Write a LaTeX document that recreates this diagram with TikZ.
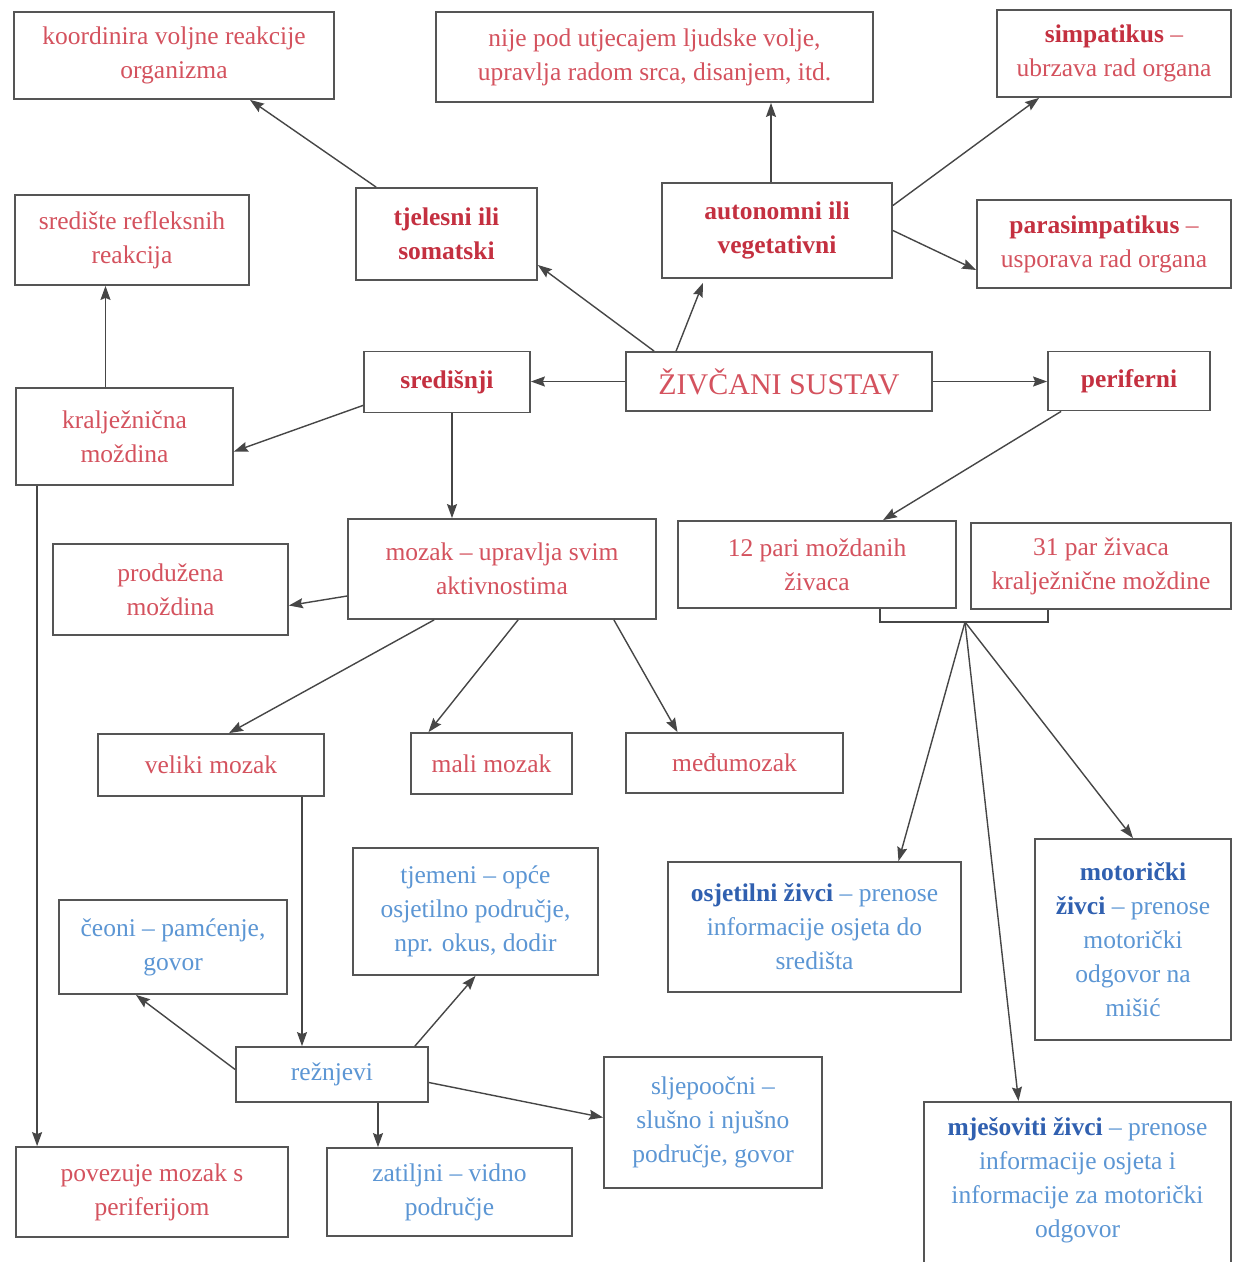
\documentclass[tikz,border=0pt]{standalone}
\usepackage{fontspec}
\setmainfont{Liberation Serif}
\usetikzlibrary{arrows.meta}
\definecolor{rtxt}{RGB}{212,82,94}
\definecolor{rbold}{RGB}{196,48,64}
\definecolor{btxt}{RGB}{92,150,212}
\definecolor{bbold}{RGB}{48,96,176}
\definecolor{framec}{RGB}{85,85,85}
\definecolor{linc}{RGB}{70,70,70}
\tikzset{
  box/.style={draw=framec, line width=1.8pt, inner sep=0pt, align=center, fill=white,
    font=\fontsize{25.5}{34}\selectfont},
  redbox/.style={box, text=rtxt},
  bluebox/.style={box, text=btxt},
  plaintxt/.style={inner sep=0pt, align=center, font=\fontsize{25.5}{34}\selectfont},
  arr/.style={draw=linc, line width=1.4pt, -{Stealth[length=14pt,width=10pt,inset=2pt]}},
  ln/.style={draw=linc, line width=1.4pt},
}
\newcommand{\rb}[1]{\textcolor{rbold}{\textbf{#1}}}
\newcommand{\bb}[1]{\textcolor{bbold}{\textbf{#1}}}
\begin{document}
\begin{tikzpicture}[x=1pt,y=-1pt]
\useasboundingbox (0,0) rectangle (1233,1262);
\fill[white] (0,0) rectangle (1233,1262);
\clip (0,0) rectangle (1233,1262);

% top row
\node[redbox, minimum width=320pt, minimum height=87pt] (koord) at (174,55.5) {koordinira voljne reakcije\\organizma};
\node[redbox, minimum width=437pt, minimum height=90pt] (nije) at (654.5,57) {nije pod utjecajem ljudske volje,\\upravlja radom srca, disanjem, itd.};
\node[redbox, minimum width=234pt, minimum height=87pt] (simp) at (1114,53.5) {\rb{simpatikus} –\\ubrzava rad organa};

\node[redbox, minimum width=181pt, minimum height=92pt] (tjel) at (446.5,234) {\rb{tjelesni ili}\\\rb{somatski}};
\node[redbox, minimum width=230pt, minimum height=95pt] (auto) at (777,230.5) {\rb{autonomni ili}\\\rb{vegetativni}};
\node[redbox, minimum width=254pt, minimum height=88pt] (paras) at (1104,244) {\rb{parasimpatikus} –\\usporava rad organa};
\node[redbox, minimum width=234pt, minimum height=90pt] (sredref) at (132,240) {središte refleksnih\\reakcija};

% middle row
\node[redbox, minimum width=166pt, minimum height=61pt] (sred) at (447,382) {\rb{središnji}};
\node[redbox, minimum width=306pt, minimum height=59pt, font=\fontsize{30}{36}\selectfont] (zs) at (779,381.5) {ŽIVČANI SUSTAV};
\node[redbox, minimum width=162pt, minimum height=59pt] (perif) at (1129,381) {\rb{periferni}};
\node[redbox, minimum width=217pt, minimum height=97pt] (kralj) at (124.5,436.5) {kralježnična\\moždina};

\node[redbox, minimum width=308pt, minimum height=100pt] (mozak) at (502,569) {mozak – upravlja svim\\aktivnostima};
\node[redbox, minimum width=278pt, minimum height=87pt] (pari) at (817,564.5) {12 pari moždanih\\živaca};
\node[redbox, minimum width=260pt, minimum height=86pt] (par31) at (1101,566) {31 par živaca\\kralježnične moždine};
\node[redbox, minimum width=235pt, minimum height=91pt] (prod) at (170.5,589.5) {produžena\\moždina};

\node[redbox, minimum width=226pt, minimum height=62pt] (vel) at (211,765) {veliki mozak};
\node[redbox, minimum width=161pt, minimum height=61pt] (mali) at (491.5,763.5) {mali mozak};
\node[redbox, minimum width=217pt, minimum height=60pt] (medju) at (734.5,763) {međumozak};

% lower part
\node[bluebox, minimum width=293pt, minimum height=130pt] (osj) at (814.5,927) {\bb{osjetilni živci} – prenose\\informacije osjeta do\\središta};
\node[bluebox, minimum width=196pt, minimum height=201pt] (mot) at (1133,939.5) {\bb{motorički}\\\bb{živci} – prenose\\motorički\\odgovor na\\mišić};
\node[bluebox, minimum width=245pt, minimum height=127pt] (tjem) at (475.5,911.5) {tjemeni – opće\\osjetilno područje,\\npr. okus, dodir};
\node[bluebox, minimum width=228pt, minimum height=94pt] (ceoni) at (173,947) {čeoni – pamćenje,\\govor};
\node[bluebox, minimum width=192pt, minimum height=55pt] (rez) at (332,1074.5) {režnjevi};
\node[bluebox, minimum width=218pt, minimum height=131pt] (slj) at (713,1122.5) {sljepoočni –\\slušno i njušno\\područje, govor};
\node[box, minimum width=307pt, minimum height=200pt, anchor=north] (mjes) at (1077.5,1101) {};
\node[plaintxt, text=btxt] (mjestxt) at (1077.5,1180) {\bb{mješoviti živci} – prenose\\informacije osjeta i\\informacije za motorički\\odgovor};
\node[redbox, minimum width=272pt, minimum height=90pt] (povez) at (152,1192) {povezuje mozak s\\periferijom};
\node[bluebox, minimum width=245pt, minimum height=88pt] (zat) at (449.5,1192) {zatiljni – vidno\\područje};

% connectors
\draw[arr] ([xshift=21pt]tjel.north west) -- ([xshift=76pt]koord.south);
\draw[arr] ([xshift=29pt]zs.north west) -- ([yshift=-31pt]tjel.east);
\draw[arr] ([xshift=51pt]zs.north west) -- ([xshift=-74pt,yshift=-4pt]auto.south);
\draw[arr] ([xshift=-6pt]auto.north) -- ([xshift=-6pt]auto.north |- nije.south);
\draw[arr] ([yshift=25pt]auto.east) -- ([xshift=43pt]simp.south west);
\draw[arr] (auto.east) -- ([yshift=-26pt]paras.west);
\draw[arr] (zs.west) -- (zs.west -| sred.east);
\draw[arr] (zs.east) -- (zs.east -| perif.west);
\draw[arr] ([yshift=8pt]sred.south west) -- ([yshift=-15pt]kralj.east);
\draw[arr] ([xshift=5pt]sred.south) -- ([xshift=5pt]sred.south |- mozak.north);
\draw[arr] ([xshift=-19pt]kralj.north) -- ([xshift=-19pt]kralj.north |- sredref.south);
\draw[arr] ([xshift=22pt]kralj.south west) -- ([xshift=22pt]kralj.south west |- povez.north);
\draw[arr] ([xshift=14pt]perif.south west) -- ([xshift=66pt]pari.north);
\draw[arr] ([yshift=-27pt]mozak.west) -- ([yshift=-16pt]prod.east);
\draw[arr] ([xshift=87pt]mozak.south west) -- ([xshift=18pt]vel.north);
\draw[arr] ([xshift=171pt]mozak.south west) -- ([xshift=-63pt]mali.north);
\draw[arr] ([xshift=-43pt]mozak.south east) -- ([xshift=-57pt]medju.north);
\draw[arr] ([xshift=91pt]vel.south) -- ([xshift=91pt]vel.south |- rez.north);
\draw[arr] ([yshift=5pt]rez.west) -- ([xshift=-37pt]ceoni.south);
\draw[arr] ([xshift=-14pt]rez.north east) -- (tjem.south);
\draw[arr] ([xshift=46pt]rez.south) -- ([xshift=46pt]rez.south |- zat.north);
\draw[arr] ([yshift=-8pt]rez.east) -- ([yshift=5pt]slj.west);

% bracket under the two nerve boxes
\coordinate (br) at (965,622);
\draw[ln] ([xshift=63pt]pari.south) |- (br) -| ([xshift=-53pt]par31.south);
\draw[arr] (br) -- ([xshift=84pt]osj.north);
\draw[arr] (br) -- (mot.north);
\draw[arr] (br) -- ([xshift=-59pt]mjes.north);
\end{tikzpicture}
\end{document}
